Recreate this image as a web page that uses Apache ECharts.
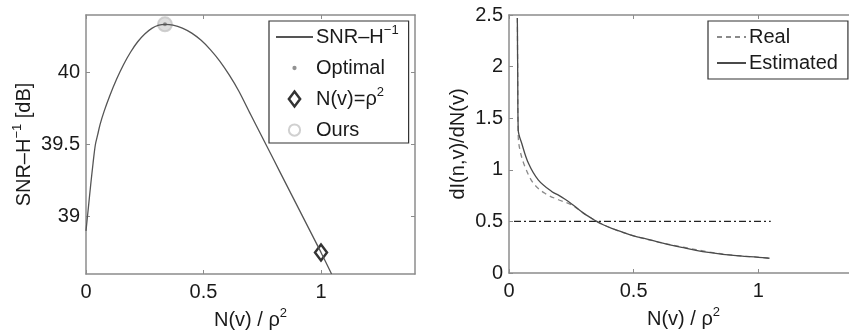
<!DOCTYPE html>
<html>
<head>
<meta charset="utf-8">
<script src="https://cdn.jsdelivr.net/npm/echarts@6/dist/echarts.min.js"></script>
<style>
  html, body { margin: 0; padding: 0; background: #fff; }
  #chart { width: 849px; height: 331px; }
</style>
</head>
<body>
<div id="chart"></div>
<script>
// left panel: SNR-H^-1 vs N(v)/rho^2
const snrX = [0, 0.01, 0.02, 0.03, 0.04, 0.05, 0.06, 0.077, 0.1, 0.13, 0.16, 0.19, 0.22, 0.25, 0.28, 0.31, 0.336, 0.37, 0.41, 0.45, 0.49, 0.53, 0.57, 0.61, 0.65, 0.7, 0.75, 0.8, 0.85, 0.9, 0.95, 1.0, 1.045]
const snrY = [38.9, 39.06, 39.22, 39.37, 39.5, 39.57, 39.64, 39.73, 39.834, 39.953, 40.056, 40.143, 40.214, 40.268, 40.307, 40.329, 40.335, 40.33, 40.309, 40.274, 40.224, 40.158, 40.078, 39.982, 39.872, 39.71, 39.55, 39.39, 39.23, 39.07, 38.91, 38.75, 38.6]
const optimalX = [0.336]
const optimalY = [40.335]
const rhoX = [1.0]
const rhoY = [38.75]
const oursX = [0.336]
const oursY = [40.335]
const leftYTicks = [39, 39.5, 40]
const xTicks = [0, 0.5, 1]

// right panel: dI(n,v)/dN(v)
const estX = [0.0335, 0.035, 0.037, 0.051, 0.078, 0.118, 0.171, 0.2, 0.225, 0.25, 0.275, 0.3, 0.325, 0.352, 0.38, 0.412, 0.45, 0.5, 0.55, 0.6, 0.65, 0.7, 0.75, 0.8, 0.9, 1.0, 1.045]
const estY = [2.47, 1.9, 1.386, 1.257, 1.063, 0.9, 0.79, 0.752, 0.714, 0.672, 0.625, 0.578, 0.54, 0.5, 0.465, 0.433, 0.4, 0.36, 0.33, 0.3, 0.27, 0.245, 0.22, 0.2, 0.17, 0.152, 0.143]
const realX = [0.0335, 0.035, 0.037, 0.044, 0.064, 0.098, 0.144, 0.198, 0.251, 0.3, 0.352, 0.412, 0.5, 0.6, 0.7, 0.8, 0.9, 1.0, 1.045]
const realY = [2.47, 1.9, 1.33, 1.19, 1.03, 0.869, 0.772, 0.71, 0.66, 0.578, 0.5, 0.433, 0.36, 0.3, 0.25, 0.205, 0.172, 0.153, 0.143]
const threshX = [0.02, 1.05]
const threshY = [0.5, 0.5]

const zip = (xs, ys) => xs.map((x, i) => [x, ys[i]])

const FONT = 'Liberation Sans, Arial, Helvetica, sans-serif'
const boxColor = '#8c8c8c'
const txt = '#1a1a1a'
const sup = { fontSize: 13, verticalAlign: 'top', lineHeight: 26, fontFamily: FONT, color: txt }
const base = { fontSize: 20, lineHeight: 26, fontFamily: FONT, color: txt }
const noMarker = { opacity: 0 }

function xAxes(gridIndex) {
  return [
    {
      type: 'value', gridIndex, min: 0, max: 1.4, position: 'bottom',
      axisLine: { show: true, onZero: false, lineStyle: { color: boxColor, width: 1.5 } },
      axisTick: { inside: true, length: 4, lineStyle: { color: boxColor }, customValues: xTicks },
      axisLabel: { color: txt, fontSize: 20, fontFamily: FONT, margin: 8, customValues: xTicks },
      splitLine: { show: false },
      name: 'N(v) / ρ{s|2}', nameLocation: 'middle', nameGap: 33,
      nameTextStyle: { ...base, rich: { s: sup } },
    },
    {
      type: 'value', gridIndex, min: 0, max: 1.4, position: 'top',
      axisLine: { show: true, onZero: false, lineStyle: { color: boxColor, width: 1.5 } },
      axisTick: { inside: true, length: 4, lineStyle: { color: boxColor }, customValues: xTicks },
      axisLabel: { show: false }, splitLine: { show: false },
    },
  ]
}

const option = {
  animation: false,
  backgroundColor: '#fff',
  grid: [
    { left: 86, top: 15, width: 329, height: 259, outerBoundsMode: 'none', containLabel: false },
    { left: 509, top: 15, width: 349, height: 258, outerBoundsMode: 'none', containLabel: false },
  ],
  xAxis: [...xAxes(0), ...xAxes(1)],
  yAxis: [
    {
      type: 'value', gridIndex: 0, min: 38.6, max: 40.4, position: 'left',
      axisLine: { show: true, onZero: false, lineStyle: { color: boxColor, width: 1.5 } },
      axisTick: { inside: true, length: 4, lineStyle: { color: boxColor }, customValues: leftYTicks },
      axisLabel: { color: txt, fontSize: 20, fontFamily: FONT, margin: 6, customValues: leftYTicks },
      splitLine: { show: false },
      name: 'SNR–H{s|−1} [dB]', nameLocation: 'middle', nameGap: 48, nameRotate: 90,
      nameTextStyle: { ...base, rich: { s: sup } },
    },
    {
      type: 'value', gridIndex: 0, min: 38.6, max: 40.4, position: 'right',
      axisLine: { show: true, onZero: false, lineStyle: { color: boxColor, width: 1.5 } },
      axisTick: { inside: true, length: 4, lineStyle: { color: boxColor }, customValues: leftYTicks },
      axisLabel: { show: false }, splitLine: { show: false },
    },
    {
      type: 'value', gridIndex: 1, min: 0, max: 2.5, interval: 0.5, position: 'left',
      axisLine: { show: true, onZero: false, lineStyle: { color: boxColor, width: 1.5 } },
      axisTick: { inside: true, length: 4, lineStyle: { color: boxColor } },
      axisLabel: { color: txt, fontSize: 20, fontFamily: FONT, margin: 6 },
      splitLine: { show: false },
      name: 'dI(n,v)/dN(v)', nameLocation: 'middle', nameGap: 33, nameRotate: 90,
      nameTextStyle: { ...base },
    },
  ],
  legend: [
    {
      left: 269, top: 21, orient: 'vertical',
      data: [
        { name: 'SNR', itemStyle: noMarker },
        { name: 'Optimal', icon: 'path://M0,0M14,14M5,7a2,2 0 1,0 4,0a2,2 0 1,0 -4,0' },
        { name: 'Nrho', icon: 'path://M6,0L12,8L6,16L0,8Z',
          itemStyle: { color: '#fff', borderColor: '#000', borderWidth: 2.5 } },
        { name: 'Ours', icon: 'path://M0,0M16,16M2,8a6,6 0 1,0 12,0a6,6 0 1,0 -12,0',
          itemStyle: { color: '#fff', borderColor: '#c4c4c4', borderWidth: 2 } },
      ],
      itemWidth: 37, itemHeight: 15, itemGap: 5,
      padding: [3, 10, 0, 6],
      backgroundColor: '#fff', borderColor: '#333', borderWidth: 1.2, borderRadius: 0,
      formatter: (n) => ({ SNR: 'SNR–H{s|−1}', Optimal: 'Optimal', Nrho: 'N(v)=ρ{s|2}', Ours: 'Ours' })[n],
      textStyle: { ...base, padding: [0, 0, 0, -2], rich: { s: sup } },
    },
    {
      left: 708, top: 21, orient: 'vertical',
      data: [{ name: 'Real', itemStyle: noMarker }, { name: 'Estimated', itemStyle: noMarker }],
      itemWidth: 29, itemHeight: 14, itemGap: 0,
      padding: [3, 10, 3, 8],
      backgroundColor: '#fff', borderColor: '#333', borderWidth: 1.2, borderRadius: 0,
      textStyle: { ...base, padding: [0, 0, 0, -2] },
    },
  ],
  series: [
    {
      name: 'SNR', type: 'line', xAxisIndex: 0, yAxisIndex: 0,
      data: zip(snrX, snrY), showSymbol: false, symbol: 'none',
      smooth: 0.3,
      lineStyle: { color: '#555', width: 1.3 }, itemStyle: { color: '#555' },
    },
    {
      name: 'Ours', type: 'scatter', xAxisIndex: 0, yAxisIndex: 0,
      data: zip(oursX, oursY), symbol: 'circle', symbolSize: 14,
      itemStyle: { color: 'rgba(200,200,200,0.75)', borderColor: '#c4c4c4', borderWidth: 2 },
    },
    {
      name: 'Optimal', type: 'scatter', xAxisIndex: 0, yAxisIndex: 0,
      data: zip(optimalX, optimalY), symbol: 'circle', symbolSize: 4,
      itemStyle: { color: '#777' },
    },
    {
      name: 'Nrho', type: 'scatter', xAxisIndex: 0, yAxisIndex: 0,
      data: zip(rhoX, rhoY), symbol: 'diamond', symbolSize: [12, 16],
      itemStyle: { color: '#fff', borderColor: '#000', borderWidth: 2.5 },
    },
    {
      name: 'thresh', type: 'line', xAxisIndex: 2, yAxisIndex: 2,
      data: zip(threshX, threshY), symbol: 'none',
      lineStyle: { color: '#222', width: 1.1, type: [7, 3, 2, 3] },
    },
    {
      name: 'Real', type: 'line', xAxisIndex: 2, yAxisIndex: 2,
      data: zip(realX, realY), symbol: 'none', smooth: 0.35,
      lineStyle: { color: '#8a8a8a', width: 1.3, type: [5, 4] }, itemStyle: { color: '#8a8a8a' },
    },
    {
      name: 'Estimated', type: 'line', xAxisIndex: 2, yAxisIndex: 2,
      data: zip(estX, estY), symbol: 'none', smooth: 0.35,
      lineStyle: { color: '#4a4a4a', width: 1.3 }, itemStyle: { color: '#4a4a4a' },
    },
  ],
}

const chart = echarts.init(document.getElementById('chart'), null, { renderer: 'canvas' })
chart.setOption(option)
</script>
</body>
</html>
